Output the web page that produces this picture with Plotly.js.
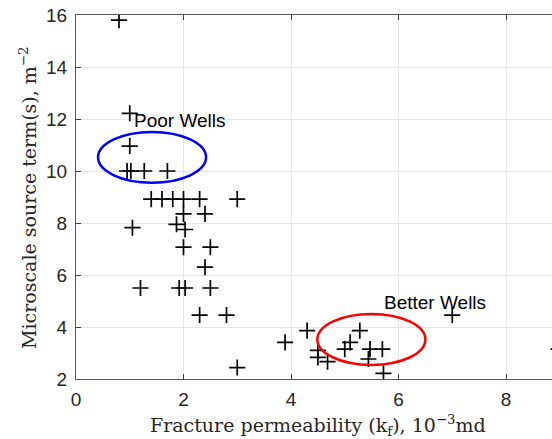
<!DOCTYPE html>
<html>
<head>
<meta charset="utf-8">
<script src="https://cdn.plot.ly/plotly-3.0.1.min.js"></script>
<style>
  html, body { margin: 0; padding: 0; background: #fff; }
  #chart { width: 552px; height: 439px; }
</style>
</head>
<body>
<div id="chart"></div>
<script>
// Fracture permeability (10^-3 md) of each well
const permeability = [
  0.8, 1.0, 1.0, 0.95, 1.02, 1.27, 1.7,
  1.4, 1.6, 1.8, 2.0, 2.3, 3.0,
  2.0, 2.4, 1.05, 1.87, 2.03,
  2.0, 2.5, 2.4,
  1.2, 1.92, 2.03, 2.5,
  2.3, 2.8, 3.0,
  3.89, 4.3, 4.5, 4.5, 4.68, 5.0, 5.1, 5.28, 5.47, 5.44, 5.7, 5.72,
  7.0, 8.98
];

// Microscale source term (m^-2) of each well
const sourceTerm = [
  15.8, 12.22, 10.96, 10.0, 10.0, 10.0, 10.0,
  8.92, 8.92, 8.92, 8.92, 8.92, 8.92,
  8.35, 8.35, 7.82, 7.95, 7.75,
  7.07, 7.07, 6.3,
  5.5, 5.5, 5.5, 5.5,
  4.46, 4.46, 2.44,
  3.41, 3.86, 3.1, 2.83, 2.67, 3.15, 3.41, 3.86, 3.15, 2.77, 3.15, 2.22,
  4.46, 3.15
];

const xTicks = [0, 2, 4, 6, 8];
const yTicks = [2, 4, 6, 8, 10, 12, 14, 16];

// Groups highlighted with an ellipse: [x0, x1, y0, y1]
const poorGroup = [0.41, 2.42, 9.55, 11.5];
const betterGroup = [4.49, 6.5, 2.54, 4.5];

const sans = 'Liberation Sans, Arial, Helvetica, sans-serif';
const serif = 'DejaVu Serif, Liberation Serif, serif';

const trace = {
  type: 'scatter',
  mode: 'markers',
  x: permeability,
  y: sourceTerm,
  marker: {
    symbol: 'cross-thin',
    size: 11.5,
    color: '#000',
    line: { color: '#000', width: 1.7 }
  },
  hoverinfo: 'x+y'
};

function ellipse(box, color) {
  return {
    type: 'circle', xref: 'x', yref: 'y',
    x0: box[0], x1: box[1], y0: box[2], y1: box[3],
    line: { color: color, width: 2.5 },
    fillcolor: 'rgba(0,0,0,0)'
  };
}

const layout = {
  width: 552,
  height: 439,
  margin: { l: 76, r: 0, t: 15, b: 60 },
  paper_bgcolor: '#fff',
  plot_bgcolor: '#fff',
  showlegend: false,
  font: { family: sans, size: 19, color: '#262626' },
  xaxis: {
    range: [0, 476 / 53.75],
    tickvals: xTicks,
    ticktext: xTicks.map(String),
    ticks: 'inside', ticklen: 5, tickcolor: '#404040',
    showline: true, linecolor: '#5a5a5a', linewidth: 1,
    mirror: 'ticks',
    showgrid: true, gridcolor: '#e6e6e6', gridwidth: 1,
    zeroline: false,
    ticklabelstandoff: 3
  },
  yaxis: {
    range: [2, 16],
    tickvals: yTicks,
    ticktext: yTicks.map(String),
    ticks: 'inside', ticklen: 5, tickcolor: '#404040',
    showline: true, linecolor: '#5a5a5a', linewidth: 1,
    showgrid: true, gridcolor: '#e6e6e6', gridwidth: 1,
    zeroline: false,
    ticklabelstandoff: 4
  },
  shapes: [ellipse(poorGroup, '#0000ff'), ellipse(betterGroup, '#ff0000')],
  annotations: [
    {
      text: 'Poor Wells', x: 1.04, y: 11.93, xref: 'x', yref: 'y',
      xanchor: 'left', yanchor: 'middle', showarrow: false,
      font: { family: sans, size: 19, color: '#000' }
    },
    {
      text: 'Better Wells', x: 5.7, y: 4.93, xref: 'x', yref: 'y',
      xanchor: 'left', yanchor: 'middle', showarrow: false,
      font: { family: sans, size: 19, color: '#000' }
    },
    {
      text: 'Fracture permeability (k<sub>f</sub>), 10<sup>−3</sup>md',
      x: (318 - 76) / 476, y: (379 - 425) / 364, xref: 'paper', yref: 'paper',
      xanchor: 'center', yanchor: 'middle', showarrow: false,
      font: { family: serif, size: 19, color: '#262626' }
    },
    {
      text: 'Microscale source term(s), m<sup>−2</sup>',
      x: (28 - 76) / 476, y: (379 - 198) / 364, xref: 'paper', yref: 'paper',
      xanchor: 'center', yanchor: 'middle', textangle: -90, showarrow: false,
      font: { family: serif, size: 19, color: '#262626' }
    }
  ]
};

Plotly.newPlot('chart', [trace], layout, { displayModeBar: false, staticPlot: true });
</script>
</body>
</html>
